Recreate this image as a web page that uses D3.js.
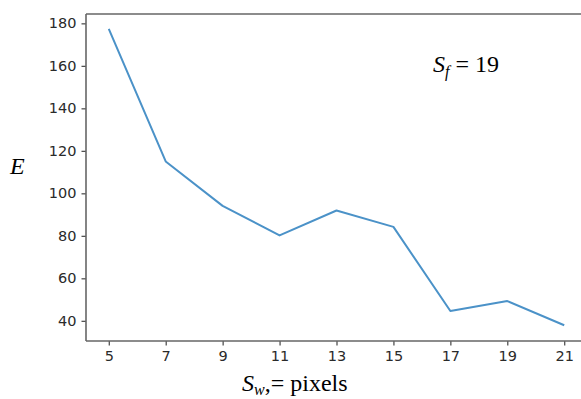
<!DOCTYPE html>
<html>
<head>
<meta charset="utf-8">
<script src="https://cdn.jsdelivr.net/npm/d3@7"></script>
<style>
  html, body { margin: 0; padding: 0; background: #fff; }
  svg { display: block; }
</style>
</head>
<body>
<script>
// window size S_w (pixels) vs error E, at S_f = 19
const windowSizes = [5, 7, 9, 11, 13, 15, 17, 19, 21];
const errors = [177.4, 115, 94.1, 80.2, 91.9, 84.2, 44.6, 49.3, 37.9];
const yTicks = [40, 60, 80, 100, 120, 140, 160, 180];

const width = 581;
const height = 399;
const plot = { left: 86, right: 587, top: 14, bottom: 341 };

const svg = d3.select('body').append('svg')
    .attr('width', width)
    .attr('height', height)
    .style('background-color', 'white');

const x = d3.scaleLinear()
    .domain([4.2, 21.8])
    .range([plot.left, plot.right]);

const y = d3.scaleLinear()
    .domain([30.5, 184.4])
    .range([plot.bottom, plot.top]);

const tickFont = '"DejaVu Sans", sans-serif';

const xAxis = g => g
    .attr('transform', `translate(0,${plot.bottom})`)
    .call(d3.axisBottom(x).tickValues(windowSizes).tickSize(4.5).tickPadding(5).tickSizeOuter(0))
    .call(g => g.select('.domain').remove());

const yAxis = g => g
    .attr('transform', `translate(${plot.left},0)`)
    .call(d3.axisLeft(y).tickValues(yTicks).tickSize(4.5).tickPadding(5).tickSizeOuter(0))
    .call(g => g.select('.domain').remove());

svg.append('g').call(xAxis);
svg.append('g').call(yAxis);

svg.selectAll('.tick line').attr('stroke', '#444').attr('stroke-width', 1.2);
svg.selectAll('.tick text')
    .attr('fill', '#2a2a2a')
    .style('font-family', tickFont)
    .style('font-size', '14.5px');

// spines: left, top, bottom (right one falls outside the picture)
const spine = '#666';
svg.append('line')
    .attr('x1', plot.left).attr('x2', plot.left)
    .attr('y1', plot.top).attr('y2', plot.bottom)
    .attr('stroke', spine).attr('stroke-width', 1.6);
svg.append('line')
    .attr('x1', plot.left).attr('x2', width)
    .attr('y1', plot.top).attr('y2', plot.top)
    .attr('stroke', spine).attr('stroke-width', 1.6);
svg.append('line')
    .attr('x1', plot.left).attr('x2', width)
    .attr('y1', plot.bottom).attr('y2', plot.bottom)
    .attr('stroke', spine).attr('stroke-width', 1.6);

const line = d3.line()
    .x((d, i) => x(windowSizes[i]))
    .y(d => y(d));

svg.append('path')
    .datum(errors)
    .attr('fill', 'none')
    .attr('stroke', '#4b92c8')
    .attr('stroke-width', 2)
    .attr('stroke-linejoin', 'round')
    .attr('d', line);

const serif = '"Liberation Serif", "Times New Roman", serif';

function serifSpan(parent, txt, opts = {}) {
    return parent.append('tspan')
        .style('font-family', serif)
        .style('font-style', opts.italic ? 'italic' : 'normal')
        .style('font-size', (opts.size || 24) + 'px')
        .attr('dy', opts.dy || 0)
        .text(txt);
}

// y label
const yl = svg.append('text').attr('x', 10).attr('y', 174).attr('fill', '#000');
serifSpan(yl, 'E', { italic: true });

// x label
const xl = svg.append('text').attr('x', 242).attr('y', 391).attr('fill', '#000');
serifSpan(xl, 'S', { italic: true });
serifSpan(xl, 'w', { italic: true, size: 16, dy: 4 });
serifSpan(xl, ',= pixels', { dy: -4 });

// annotation
const ann = svg.append('text').attr('x', 433).attr('y', 72).attr('fill', '#000');
serifSpan(ann, 'S', { italic: true });
serifSpan(ann, 'f', { italic: true, size: 16, dy: 5 });
serifSpan(ann, ' = 19', { dy: -5 });
</script>
</body>
</html>
